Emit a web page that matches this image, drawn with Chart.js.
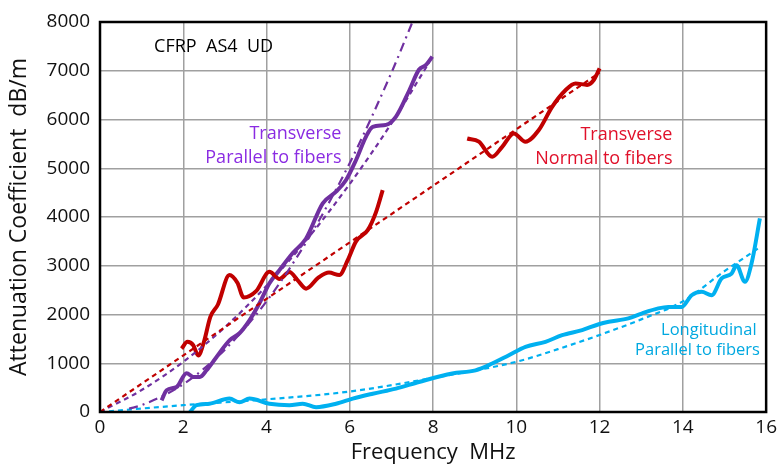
<!DOCTYPE html>
<html>
<head>
<meta charset="utf-8">
<script src="https://cdn.jsdelivr.net/npm/chart.js@4.4.1/dist/chart.umd.min.js"></script>
<style>
  html, body { margin: 0; padding: 0; background: #fff; }
  #wrap { width: 781px; height: 466px; }
</style>
</head>
<body>
<div id="wrap"><canvas id="myChart" width="781" height="466"></canvas></div>
<script>
// frequency (MHz) / attenuation (dB/m)
var transNormX = [1.96, 2.1, 2.24, 2.36, 2.5, 2.65, 2.83, 3.11, 3.3, 3.45, 3.75, 4.07, 4.31, 4.55, 4.75, 4.95, 5.25, 5.5, 5.75, 5.95, 6.15, 6.43, 6.63, 6.79];
var transNormY = [1300, 1440, 1370, 1160, 1450, 1950, 2200, 2810, 2650, 2350, 2480, 2875, 2730, 2870, 2700, 2530, 2760, 2860, 2810, 3115, 3500, 3730, 4100, 4550];
var transNorm2X = [8.82, 9.1, 9.42, 9.66, 9.94, 10.22, 10.54, 10.86, 11.18, 11.42, 11.7, 11.86, 12.0];
var transNorm2Y = [5610, 5545, 5235, 5440, 5715, 5545, 5785, 6260, 6600, 6740, 6710, 6810, 7050];
var transNormFitX = [0, 12];
var transNormFitY = [0, 6960];

var transParX = [1.48, 1.6, 1.84, 2.08, 2.24, 2.4, 2.56, 2.8, 3.11, 3.35, 3.59, 3.83, 4.07, 4.31, 4.63, 4.95, 5.35, 5.67, 5.91, 6.15, 6.39, 6.55, 6.87, 7.11, 7.43, 7.66, 7.83, 7.98];
var transParY = [240, 445, 513, 795, 720, 720, 856, 1130, 1470, 1615, 1880, 2230, 2640, 2910, 3260, 3560, 4280, 4520, 4760, 5170, 5650, 5850, 5890, 6060, 6600, 7020, 7120, 7290];
var transParFitX = [0, 1, 2, 3, 4, 5, 6, 7, 7.9];
var transParFitY = [0, 450, 1030, 1740, 2590, 3570, 4680, 5920, 7160];
var transParFit2X = [0.7, 1, 2, 3, 4, 5, 6, 7, 7.5];
var transParFit2Y = [70, 140, 570, 1280, 2270, 3550, 5110, 6960, 7990];

var longX = [2.16, 2.32, 2.63, 3.11, 3.35, 3.59, 4.07, 4.55, 4.87, 5.19, 5.67, 6.07, 6.55, 7.11, 7.66, 8.46, 9.02, 9.42, 9.82, 10.22, 10.7, 11.1, 11.58, 11.98, 12.22, 12.69, 13.01, 13.41, 13.65, 13.97, 14.21, 14.45, 14.69, 14.93, 15.17, 15.29, 15.49, 15.65, 15.85];
var longY = [0, 140, 170, 275, 200, 275, 170, 140, 170, 100, 170, 275, 375, 480, 615, 790, 855, 995, 1165, 1335, 1440, 1575, 1680, 1800, 1850, 1920, 2020, 2125, 2155, 2155, 2395, 2465, 2395, 2740, 2840, 3010, 2670, 3050, 3970];
var longFitX = [0, 2, 4, 6, 8, 10, 11, 12, 13, 14, 15, 15.8];
var longFitY = [0, 140, 260, 420, 700, 1030, 1290, 1580, 1900, 2270, 2890, 3350];

var xTicks = [0, 2, 4, 6, 8, 10, 12, 14, 16];
var yTicks = [0, 1000, 2000, 3000, 4000, 5000, 6000, 7000, 8000];

var purple = "#7030a0";
var red = "#c00000";
var cyan = "#00b0f0";
var font = "'Open Sans', 'Liberation Sans', Arial, sans-serif";

var notes = [
  { text: "CFRP  AS4  UD", x: 1.3, y: 7480, color: "#000", align: "left", size: 18 },
  { text: "Transverse", x: 5.8, y: 5700, color: "#8a2be2", align: "right", size: 18 },
  { text: "Parallel to fibers", x: 5.8, y: 5210, color: "#8a2be2", align: "right", size: 18 },
  { text: "Transverse", x: 13.75, y: 5680, color: "#e0102a", align: "right", size: 18 },
  { text: "Normal to fibers", x: 13.75, y: 5190, color: "#e0102a", align: "right", size: 18 },
  { text: "Longitudinal", x: 15.77, y: 1680, color: "#00a8e0", align: "right", size: 16.5 },
  { text: "Parallel to fibers", x: 15.85, y: 1270, color: "#00a8e0", align: "right", size: 16.5 },
];

function pts(xs, ys) {
  return xs.map(function (x, i) { return { x: x, y: ys[i] }; });
}

function solid(xs, ys, color) {
  return { data: pts(xs, ys), borderColor: color, borderWidth: 4, pointRadius: 0, fill: false, cubicInterpolationMode: "monotone" };
}

function dashed(xs, ys, color, dash) {
  return { data: pts(xs, ys), borderColor: color, borderWidth: 2.2, borderDash: dash, pointRadius: 0, fill: false, cubicInterpolationMode: "monotone" };
}

var notesPlugin = {
  id: "notes",
  afterDatasetsDraw: function (chart) {
    var ctx = chart.ctx;
    var xs = chart.scales.x, ys = chart.scales.y;
    ctx.save();
    ctx.textBaseline = "middle";
    for (const n of notes) {
      ctx.font = n.size + "px " + font;
      ctx.fillStyle = n.color;
      ctx.textAlign = n.align;
      ctx.fillText(n.text, xs.getPixelForValue(n.x), ys.getPixelForValue(n.y));
    }
    ctx.restore();
  },
};

var borderPlugin = {
  id: "frame",
  afterDatasetsDraw: function (chart) {
    var a = chart.chartArea;
    var ctx = chart.ctx;
    ctx.save();
    ctx.strokeStyle = "#000";
    ctx.lineWidth = 2.5;
    ctx.strokeRect(a.left, a.top, a.right - a.left, a.bottom - a.top);
    ctx.restore();
  },
};

var ctx = document.getElementById("myChart").getContext("2d");
var myChart = new Chart(ctx, {
  type: "line",
  data: {
    datasets: [
      dashed(transNormFitX, transNormFitY, red, [5, 4]),
      dashed(transParFitX, transParFitY, purple, [5, 4]),
      dashed(transParFit2X, transParFit2Y, purple, [9, 5, 2, 5]),
      dashed(longFitX, longFitY, cyan, [5, 4]),
      solid(transNormX, transNormY, red),
      solid(transNorm2X, transNorm2Y, red),
      solid(transParX, transParY, purple),
      solid(longX, longY, cyan),
    ],
  },
  options: {
    responsive: false,
    animation: false,
    layout: { padding: { top: 22, right: 13, left: 0, bottom: 0 } },
    plugins: {
      legend: { display: false },
      tooltip: { enabled: false },
    },
    scales: {
      x: {
        type: "linear",
        min: 0,
        max: 16,
        afterBuildTicks: function (s) { s.ticks = xTicks.map(function (v) { return { value: v }; }); },
        afterFit: function (s) { s.height = 54; },
        grid: { color: "#a0a0a0", lineWidth: 1.5, drawTicks: false },
        border: { display: false },
        ticks: { color: "#111", padding: 4, font: { size: 19, family: font } },
        title: { display: true, text: "Frequency  MHz", color: "#111", padding: { top: -6, bottom: 0 }, font: { size: 22, family: font } },
      },
      y: {
        min: 0,
        max: 8000,
        afterBuildTicks: function (s) { s.ticks = yTicks.map(function (v) { return { value: v }; }); },
        afterFit: function (s) { s.width = 100; },
        grid: { color: "#a0a0a0", lineWidth: 1.5, drawTicks: false },
        border: { display: false },
        ticks: { color: "#111", padding: 10, font: { size: 19, family: font }, callback: function (v) { return String(v); } },
        title: { display: true, text: "Attenuation Coefficient  dB/m", color: "#111", padding: { top: 6, bottom: 0 }, font: { size: 23, family: font } },
      },
    },
  },
  plugins: [notesPlugin, borderPlugin],
});
</script>
</body>
</html>
